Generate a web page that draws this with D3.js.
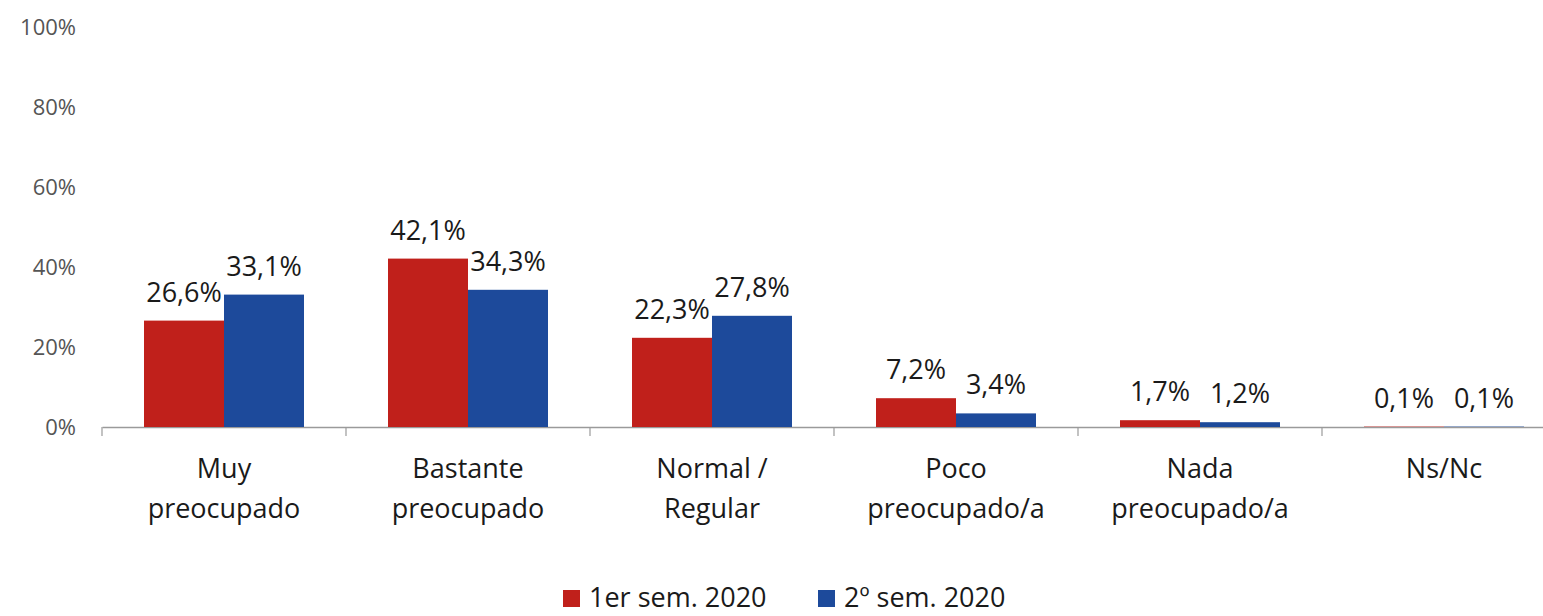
<!DOCTYPE html>
<html>
<head>
<meta charset="utf-8">
<script src="https://cdn.jsdelivr.net/npm/d3@7"></script>
<style>
  html, body { margin: 0; padding: 0; background: #fff; }
  svg { display: block; font-family: "Open Sans", "Noto Sans", sans-serif; }
</style>
</head>
<body>
<svg id="chart" width="1543" height="616"></svg>
<script>
const categories = [["Muy", "preocupado"], ["Bastante", "preocupado"], ["Normal /", "Regular"], ["Poco", "preocupado/a"], ["Nada", "preocupado/a"], ["Ns/Nc"]];
const seriesNames = ["1er sem. 2020", "2º sem. 2020"];
const series1 = [26.6, 42.1, 22.3, 7.2, 1.7, 0.1];
const series2 = [33.1, 34.3, 27.8, 3.4, 1.2, 0.1];
const yTicks = [0, 20, 40, 60, 80, 100];
const colors = ["#C0201B", "#1D4A9B"];

const svg = d3.select("#chart");
const catIdx = d3.range(categories.length);

const x = d3.scaleBand().domain(catIdx).range([102, 102 + 244 * 6]).paddingInner(0).paddingOuter(0);
const y = d3.scaleLinear().domain([0, 100]).range([427, 27]);
const xs = d3.scaleBand().domain([0, 1]).range([0, x.bandwidth()]).paddingInner(0).paddingOuter(0.525);

const fmt = v => d3.format(".1f")(v).replace(".", ",") + "%";

// y tick labels
svg.append("g").selectAll("text").data(yTicks).join("text")
  .attr("x", 76).attr("y", d => y(d)).attr("dy", "0.35em")
  .attr("text-anchor", "end").attr("font-size", 22).attr("fill", "#555")
  .text(d => d + "%");

// axis line and ticks
const xAxis = d3.axisBottom(x).tickSize(0).tickFormat("");
const ax = svg.append("g").attr("transform", "translate(0,427)").call(xAxis);
ax.select(".domain").attr("stroke", "#9a9a9a").attr("stroke-width", 1.5);
const boundaries = d3.range(categories.length + 1).map(i => 102 + i * x.step());
svg.append("g").selectAll("line").data(boundaries).join("line")
  .attr("x1", d => d).attr("x2", d => d).attr("y1", 427).attr("y2", 436)
  .attr("stroke", "#9a9a9a").attr("stroke-width", 1.2);

// bars
const data = [series1, series2];
data.forEach((vals, s) => {
  const g = svg.append("g");
  g.selectAll("rect").data(vals).join("rect")
    .attr("x", (d, i) => x(i) + xs(s))
    .attr("width", xs.bandwidth())
    .attr("y", d => y(d))
    .attr("height", d => y(0) - y(d))
    .attr("fill", colors[s]);
  g.selectAll("text").data(vals).join("text")
    .attr("x", (d, i) => x(i) + xs(s) + xs.bandwidth() / 2)
    .attr("y", d => y(d) - 19)
    .attr("text-anchor", "middle").attr("font-size", 27).attr("fill", "#1a1a1a")
    .text(d => fmt(d));
});

// category labels
const cl = svg.append("g").selectAll("text").data(categories).join("text")
  .attr("text-anchor", "middle").attr("font-size", 27).attr("fill", "#1a1a1a")
  .attr("x", (d, i) => x(i) + x.bandwidth() / 2)
  .attr("y", 478);
cl.selectAll("tspan").data(d => d).join("tspan")
  .attr("x", function() { return d3.select(this.parentNode).attr("x"); })
  .attr("dy", (d, i) => i === 0 ? 0 : 40)
  .text(d => d);

// legend
const legendX = [563, 818];
const lg = svg.append("g").selectAll("g").data(seriesNames).join("g")
  .attr("transform", (d, i) => `translate(${legendX[i]},590)`);
lg.append("rect").attr("width", 17).attr("height", 17).attr("fill", (d, i) => colors[i]);
lg.append("text").attr("x", 26).attr("y", 17).attr("font-size", 27).attr("fill", "#1a1a1a").text(d => d);
</script>
</body>
</html>
